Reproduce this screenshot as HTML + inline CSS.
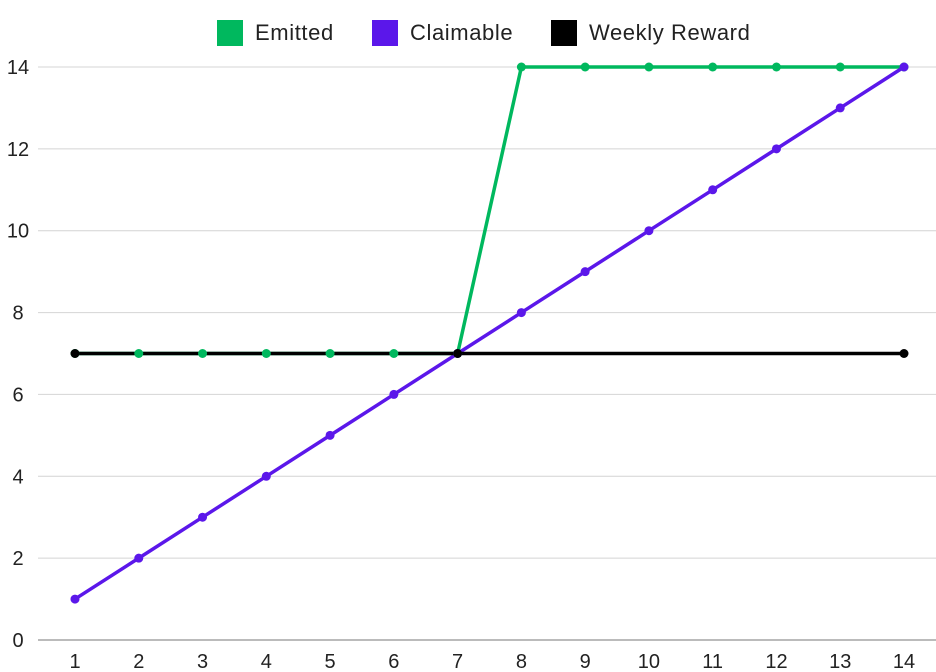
<!DOCTYPE html>
<html><head><meta charset="utf-8"><style>
html,body{margin:0;padding:0;background:#fff;overflow:hidden;}
svg{display:block;}
svg text{font-family:"Liberation Sans",sans-serif;fill:#222;}
</style></head><body>
<svg id="chart" width="936" height="672"></svg>
<script>
const categories=[1,2,3,4,5,6,7,8,9,10,11,12,13,14];
const emitted=[7,7,7,7,7,7,7,14,14,14,14,14,14,14];
const claimable=[1,2,3,4,5,6,7,8,9,10,11,12,13,14];
const weekly=[7,null,null,null,null,null,7,null,null,null,null,null,null,7];
const yTicks=[0,2,4,6,8,10,12,14];

const svg=document.getElementById('chart');
const NS='http://www.w3.org/2000/svg';
function xs(i){return 75+(904-75)*(i)/(categories.length-1);}
function ys(v){return 640-(640-67)*v/14;}
function mk(tag,attrs,parent){const e=document.createElementNS(NS,tag);for(const k in attrs)e.setAttribute(k,attrs[k]);(parent||svg).appendChild(e);return e;}

yTicks.forEach(t=>{
  const l=mk('line',{x1:38,x2:936,y1:ys(t),y2:ys(t),stroke:t===0?'#777':'#d4d4d4','stroke-width':1});
  
  
  const tx=mk('text',{x:18,y:ys(t)+7,'text-anchor':'middle','font-size':20});
  tx.textContent=t;
  
  
});
categories.forEach((c,i)=>{
  const tx=mk('text',{x:xs(i),y:668,'text-anchor':'middle','font-size':20});
  tx.textContent=c;
  
  
});

const seriesList=[[emitted,'#00b85e','emitted'],[claimable,'#5b17ea','claimable'],[weekly,'#000000','weekly-reward']];
function pointsOf(vals){const pts=[];vals.forEach((v,i)=>{if(v!==null)pts.push([xs(i),ys(v)]);});return pts;}
seriesList.forEach(s=>{
  const pts=pointsOf(s[0]);
  const p=mk('polyline',{points:pts.map(p=>p.join(',')).join(' '),fill:'none',stroke:s[1],'stroke-width':3.5});
  
  
});
seriesList.forEach(s=>{
  pointsOf(s[0]).forEach(q=>{
    const c=mk('circle',{cx:q[0],cy:q[1],r:4.5,fill:s[1]});
    
    
  });
});

const legend=[['Emitted','#00b85e',217],['Claimable','#5b17ea',372],['Weekly Reward','#000000',551]];
legend.forEach(l=>{
  const g=mk('g',{});
  
  
  mk('rect',{x:l[2],y:20,width:26,height:26,fill:l[1]},g);
  const t=mk('text',{x:l[2]+38,y:40,'font-size':22,'letter-spacing':0.6},g);
  t.textContent=l[0];
});
</script>
</body></html>
